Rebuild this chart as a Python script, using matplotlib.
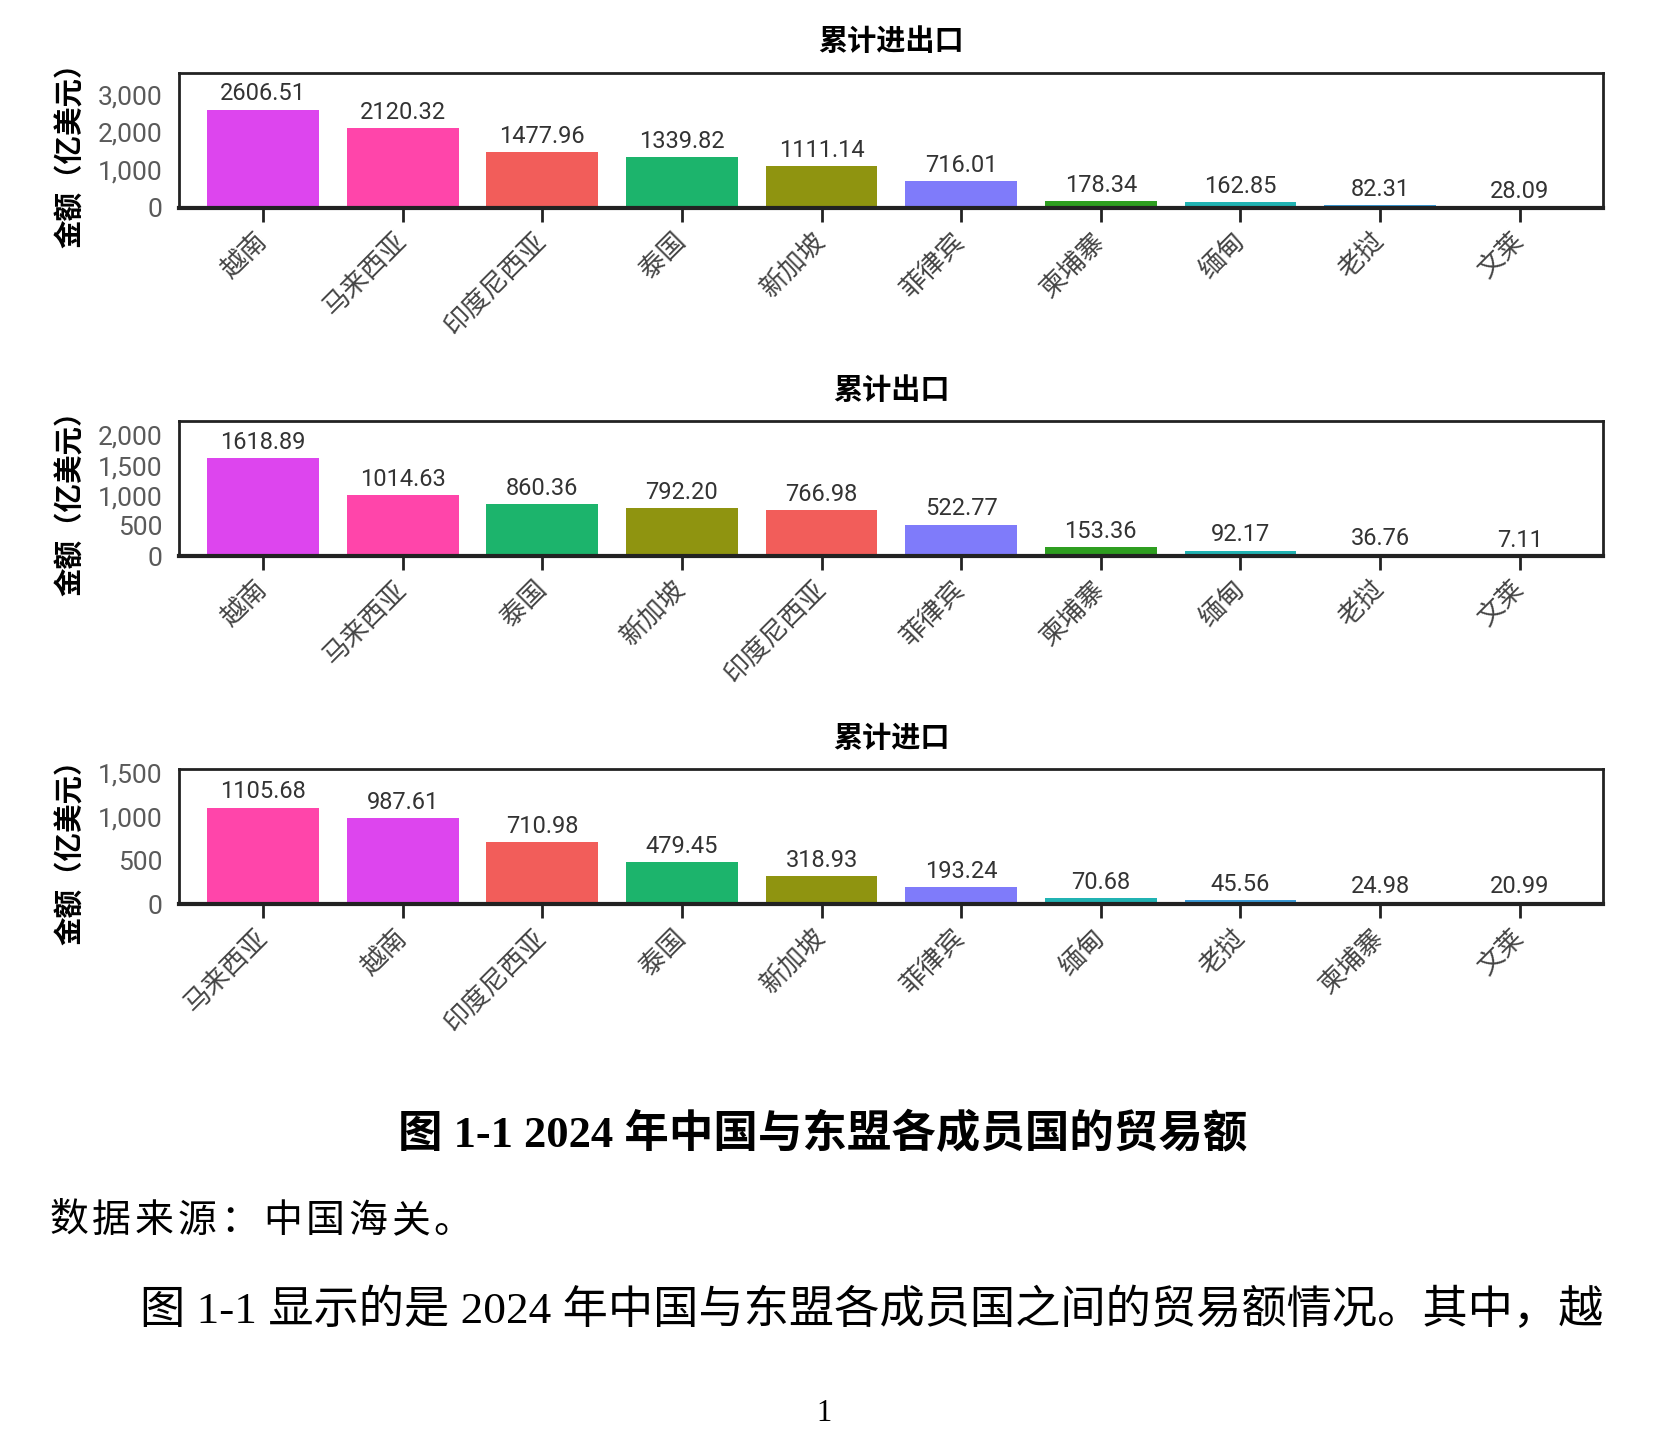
import matplotlib
matplotlib.use("Agg")
import matplotlib.pyplot as plt
from matplotlib import font_manager
from matplotlib.ticker import MultipleLocator, FuncFormatter

# 2024 China-ASEAN trade, 亿美元
cats_total = ["越南", "马来西亚", "印度尼西亚", "泰国", "新加坡", "菲律宾", "柬埔寨", "缅甸", "老挝", "文莱"]
vals_total = [2606.51, 2120.32, 1477.96, 1339.82, 1111.14, 716.01, 178.34, 162.85, 82.31, 28.09]

cats_export = ["越南", "马来西亚", "泰国", "新加坡", "印度尼西亚", "菲律宾", "柬埔寨", "缅甸", "老挝", "文莱"]
vals_export = [1618.89, 1014.63, 860.36, 792.20, 766.98, 522.77, 153.36, 92.17, 36.76, 7.11]

cats_import = ["马来西亚", "越南", "印度尼西亚", "泰国", "新加坡", "菲律宾", "缅甸", "老挝", "柬埔寨", "文莱"]
vals_import = [1105.68, 987.61, 710.98, 479.45, 318.93, 193.24, 70.68, 45.56, 24.98, 20.99]

titles = ["累计进出口", "累计出口", "累计进口"]

country_colors = {
    "越南": "#DD45EE", "马来西亚": "#FF45AA", "印度尼西亚": "#F25D5A", "泰国": "#1CB46C",
    "新加坡": "#8F9410", "菲律宾": "#7F7BFA", "柬埔寨": "#2E9E20", "缅甸": "#21B3B3",
    "老挝": "#3A9AD6", "文莱": "#E8A0D8",
}

installed = {f.name for f in font_manager.fontManager.ttflist}
num_font = next((f for f in ["Liberation Sans Narrow", "DejaVu Sans Condensed", "Roboto", "DejaVu Sans"]
                 if f in installed), "DejaVu Sans")
CJK = "Noto Sans CJK SC"
plt.rcParams["font.family"] = [num_font, CJK, "DejaVu Sans"]

fig = plt.figure(figsize=(16.54, 14.33), dpi=100)

panels = [
    (cats_total, vals_total, 1000, 1.377, 0.8549),
    (cats_export, vals_export, 500, 1.386, 0.6119),
    (cats_import, vals_import, 500, 1.40, 0.3689),
]

for (cats, vals, step, head, bottom), title in zip(panels, titles):
    ax = fig.add_axes([0.1084, bottom, 0.861, 0.0945])
    x = list(range(len(cats)))
    ax.bar(x, vals, width=0.8, color=[country_colors[c] for c in cats], zorder=2)
    for xi, v in zip(x, vals):
        ax.annotate(f"{v:.2f}", (xi, v), xytext=(0, 3), textcoords="offset points",
                    ha="center", va="bottom", fontsize=17, color="#333333")
    ax.set_xlim(-0.6, len(cats) - 0.4)
    ax.set_ylim(0, max(vals) * head)
    ax.yaxis.set_major_locator(MultipleLocator(step))
    ax.yaxis.set_major_formatter(FuncFormatter(lambda v, p: f"{v:,.0f}"))
    ax.tick_params(axis="y", length=0, pad=12, labelsize=19, labelcolor="#5a5a5a")
    ax.tick_params(axis="x", length=10, width=2, pad=11, color="#222222")
    ax.set_xticks(x)
    ax.set_xticklabels(cats, rotation=45, ha="right", va="center", rotation_mode="anchor",
                       fontsize=19, color="#444444", family=[CJK])
    for s in ax.spines.values():
        s.set_linewidth(2)
        s.set_color("#222222")
    ax.spines["bottom"].set_linewidth(3)
    ax.set_title(title, fontsize=21, fontweight="bold", family=[CJK], pad=16)
    ax.set_ylabel("金额（亿美元）", fontsize=20.5, fontweight="bold", family=[CJK])
    ax.yaxis.set_label_coords(-0.066, 0.44)

serif = ["Liberation Serif", CJK]
fig.text(0.4975, 0.2084, "图 1-1 2024 年中国与东盟各成员国的贸易额", ha="center", va="center",
         fontsize=32, family=serif, fontweight="bold")

# source line is letter-spaced in the original
source = "数据来源：中国海关。"
for i, ch in enumerate(source):
    fig.text(0.0287 + 0.0129 + i * 0.02583, 0.147, ch, ha="center", va="center",
             fontsize=28, family=serif)

fig.text(0.0848, 0.0854, "图 1-1 显示的是 2024 年中国与东盟各成员国之间的贸易额情况。其中，越",
         ha="left", va="center", fontsize=32.6, family=serif)
fig.text(0.498, 0.0133, "1", ha="center", va="center", fontsize=22, family=serif)

fig.savefig("out.png", dpi=100)
